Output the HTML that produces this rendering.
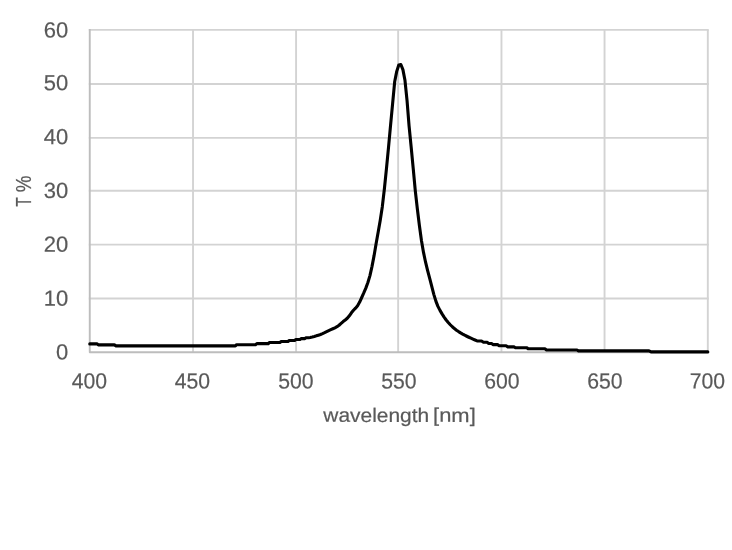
<!DOCTYPE html>
<html><head><meta charset="utf-8"><title>Transmission chart</title>
<style>
html,body{margin:0;padding:0;background:#fff;}
body{width:732px;height:550px;overflow:hidden;font-family:"Liberation Sans",sans-serif;}
</style></head><body>
<svg width="732" height="550" viewBox="0 0 732 550" style="display:block;will-change:transform">
<rect x="0" y="0" width="732" height="550" fill="#ffffff"/>
<g stroke="#d3d3d3" stroke-width="1.9" fill="none"><line x1="88.81" y1="298.49" x2="708.77" y2="298.49"/><line x1="88.81" y1="244.66" x2="708.77" y2="244.66"/><line x1="88.81" y1="190.74" x2="708.77" y2="190.74"/><line x1="88.81" y1="137.89" x2="708.77" y2="137.89"/><line x1="88.81" y1="83.93" x2="708.77" y2="83.93"/><line x1="88.81" y1="29.88" x2="708.77" y2="29.88"/><line x1="193.03" y1="29.88" x2="193.03" y2="352.23"/><line x1="296.08" y1="29.88" x2="296.08" y2="352.23"/><line x1="398.14" y1="29.88" x2="398.14" y2="352.23"/><line x1="501.47" y1="29.88" x2="501.47" y2="352.23"/><line x1="604.55" y1="29.88" x2="604.55" y2="352.23"/><line x1="707.82" y1="29.88" x2="707.82" y2="352.23"/></g>
<path d="M89.76,28.93 L89.76,352.23 L707.82,352.23" stroke="#bdbdbd" stroke-width="1.9" fill="none" stroke-linejoin="round"/>
<path d="M89.76,343.90 L97.20,343.90 L98.30,344.85 L114.40,344.85 L116.00,345.90 L235.40,345.90 L236.60,344.70 L255.50,344.70 L256.80,343.65 L268.30,343.65 L269.30,342.55 L279.90,342.55 L281.20,341.50 L288.00,341.50 L289.20,340.50 L294.60,340.50 L295.90,339.50 L300.00,339.50 L301.30,338.60 L304.90,338.60 L306.00,337.70 L308.60,337.70 L310.20,337.41 L312.26,336.96 L314.32,336.42 L316.38,335.82 L318.44,335.16 L320.50,334.46 L322.56,333.64 L324.62,332.68 L326.68,331.65 L328.74,330.61 L330.80,329.65 L332.86,328.76 L334.92,327.82 L336.98,326.71 L339.04,325.26 L341.10,323.41 L343.16,321.60 L345.22,320.04 L347.28,318.31 L349.35,315.81 L351.41,312.80 L353.47,310.26 L355.53,308.14 L357.59,305.70 L359.65,302.06 L361.71,297.51 L363.77,292.98 L365.83,288.15 L367.89,282.56 L369.95,275.57 L372.01,266.34 L374.07,255.64 L376.13,243.50 L378.19,231.97 L380.25,220.19 L382.31,206.67 L384.37,188.95 L386.43,168.86 L388.49,147.56 L390.55,125.40 L392.61,103.55 L394.67,81.78 L396.73,71.36 L398.79,64.96 L400.85,64.48 L402.91,69.64 L404.97,80.33 L407.03,100.38 L409.09,126.07 L411.15,146.95 L413.21,168.37 L415.27,190.59 L417.33,208.75 L419.39,225.53 L421.45,240.52 L423.51,252.44 L425.57,262.23 L427.63,270.64 L429.69,278.40 L431.75,286.48 L433.81,294.36 L435.87,301.08 L437.93,306.33 L439.99,310.41 L442.05,313.91 L444.11,317.11 L446.17,319.97 L448.23,322.48 L450.29,324.73 L452.36,326.77 L454.42,328.59 L456.48,330.18 L458.54,331.59 L460.60,332.88 L462.66,334.08 L464.72,335.20 L466.78,336.25 L468.84,337.25 L470.90,338.21 L472.96,339.13 L475.02,340.01 L477.08,340.84 L477.50,341.00 L481.50,341.00 L483.50,342.30 L487.30,342.30 L488.50,343.50 L491.80,343.50 L493.00,344.65 L497.50,344.65 L499.20,345.80 L506.10,345.80 L507.80,346.90 L514.00,346.90 L515.40,347.75 L526.90,347.75 L528.10,348.75 L544.90,348.75 L546.50,349.95 L577.00,349.95 L578.50,350.90 L649.00,350.90 L651.00,351.90 L707.82,351.90" fill="none" stroke="#000" stroke-width="3.1" stroke-linejoin="round" stroke-linecap="round"/>
<g font-family="'Liberation Sans', sans-serif" font-size="22" fill="#595959" stroke="#595959" stroke-width="0.2"><text transform="translate(68.2,359.55) matrix(1,0.002,0,1,0,0)" text-anchor="end">0</text><text transform="translate(68.2,305.85) matrix(1,0.002,0,1,0,0)" text-anchor="end">10</text><text transform="translate(68.2,251.85) matrix(1,0.002,0,1,0,0)" text-anchor="end">20</text><text transform="translate(68.2,198.05) matrix(1,0.002,0,1,0,0)" text-anchor="end">30</text><text transform="translate(68.2,144.23) matrix(1,0.002,0,1,0,0)" text-anchor="end">40</text><text transform="translate(68.2,90.23) matrix(1,0.002,0,1,0,0)" text-anchor="end">50</text><text transform="translate(68.2,37.55) matrix(1,0.002,0,1,0,0)" text-anchor="end">60</text><text transform="translate(89.36,388.5) matrix(1,0.002,0,1,0,0)" text-anchor="middle" textLength="35.4" lengthAdjust="spacingAndGlyphs">400</text><text transform="translate(192.37,388.5) matrix(1,0.002,0,1,0,0)" text-anchor="middle" textLength="35.4" lengthAdjust="spacingAndGlyphs">450</text><text transform="translate(295.83,388.5) matrix(1,0.002,0,1,0,0)" text-anchor="middle" textLength="35.4" lengthAdjust="spacingAndGlyphs">500</text><text transform="translate(398.94,388.5) matrix(1,0.002,0,1,0,0)" text-anchor="middle" textLength="35.4" lengthAdjust="spacingAndGlyphs">550</text><text transform="translate(501.90,388.5) matrix(1,0.002,0,1,0,0)" text-anchor="middle" textLength="35.4" lengthAdjust="spacingAndGlyphs">600</text><text transform="translate(604.86,388.5) matrix(1,0.002,0,1,0,0)" text-anchor="middle" textLength="35.4" lengthAdjust="spacingAndGlyphs">650</text><text transform="translate(707.42,388.5) matrix(1,0.002,0,1,0,0)" text-anchor="middle" textLength="35.4" lengthAdjust="spacingAndGlyphs">700</text></g>
<g font-family="'Liberation Sans', sans-serif" font-size="19.6" fill="#595959" stroke="#595959" stroke-width="0.2"><text transform="translate(323.3,421.85) matrix(1,0.001,0,1,0,0)" textLength="105.9" lengthAdjust="spacingAndGlyphs">wavelength</text><text transform="translate(433.05,421.85) matrix(1,0.002,0,1,0,0)" textLength="42.7" lengthAdjust="spacingAndGlyphs">[nm]</text></g>
<g font-family="'Liberation Sans', sans-serif" font-size="21.8" fill="#595959" stroke="#595959" stroke-width="0.2"><text transform="translate(31.0,206.6) rotate(-90)" textLength="9.3" lengthAdjust="spacingAndGlyphs">T</text><text transform="translate(31.0,192.2) rotate(-90)" textLength="16.7" lengthAdjust="spacingAndGlyphs">%</text></g>
</svg>
</body></html>
